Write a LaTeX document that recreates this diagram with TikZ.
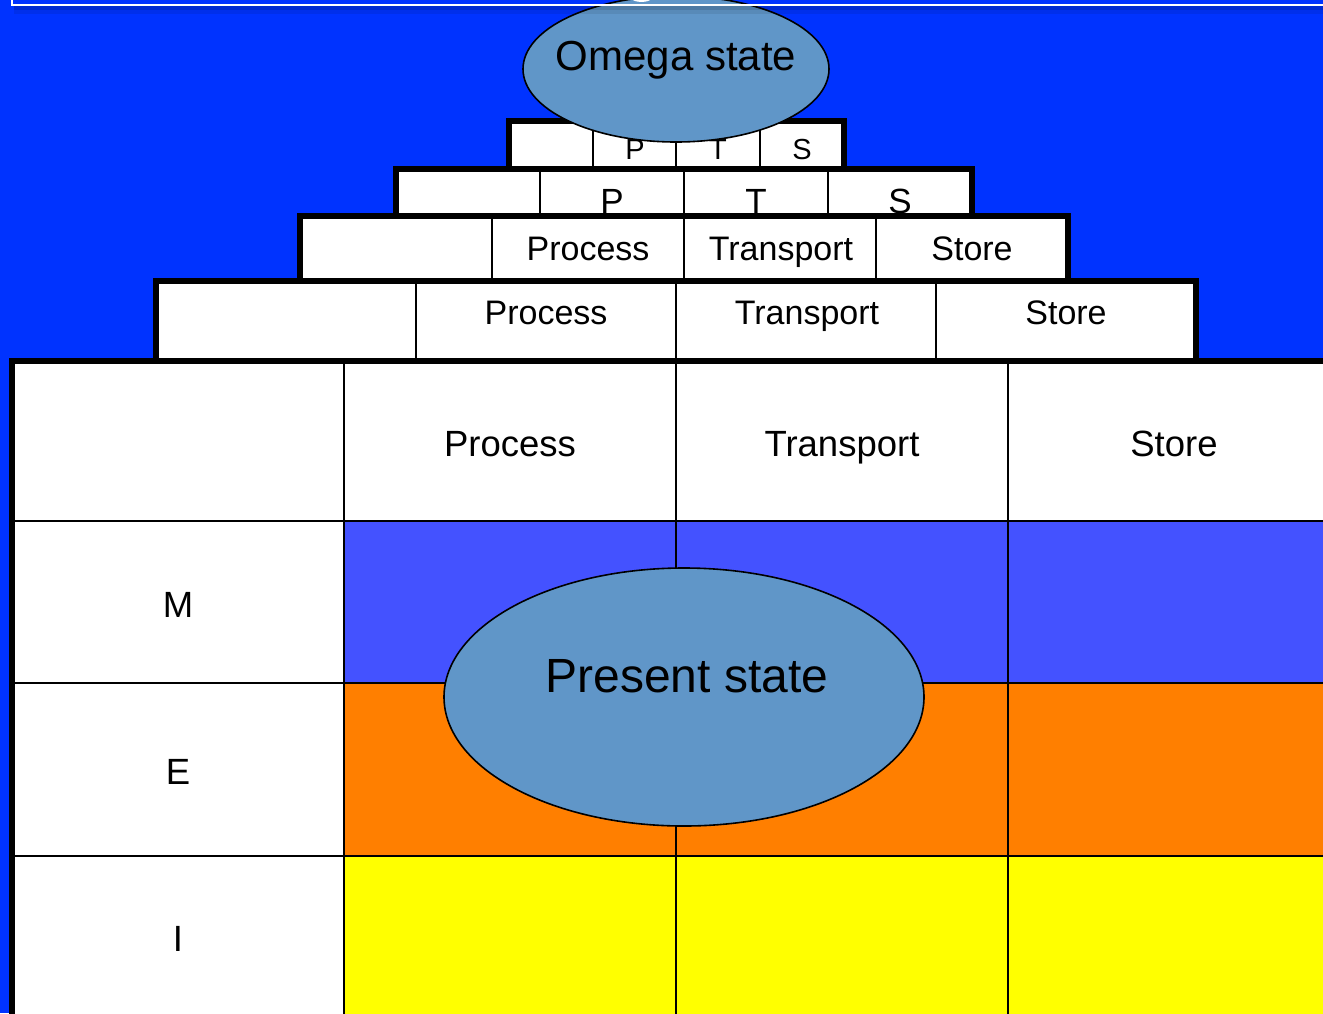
\documentclass[tikz,border=0pt]{standalone}
\usepackage{fontspec}
\setmainfont{Liberation Sans}
\usetikzlibrary{shapes.geometric}
\definecolor{bgblue}{RGB}{0,51,255}
\definecolor{mblue}{RGB}{68,82,255}
\definecolor{eorange}{RGB}{255,127,0}
\definecolor{iyellow}{RGB}{255,255,0}
\definecolor{ellfill}{RGB}{96,150,200}
\begin{document}
\begin{tikzpicture}[x=1pt,y=-1pt,
  outer/.style={line width=5.5pt,line join=miter},
  inner/.style={line width=1.6pt},
  lbl/.style={anchor=base,inner sep=0pt,font=\fontsize{34}{34}\selectfont},
  tinylbl/.style={lbl,font=\fontsize{29}{29}\selectfont},
  midlbl/.style={lbl,font=\fontsize{35}{35}\selectfont},
  biglbl/.style={lbl,font=\fontsize{36.5}{36.5}\selectfont},
  stateell/.style={draw,ellipse,fill=ellfill,line width=1.6pt,inner sep=0pt}]
\useasboundingbox (0,0) rectangle (1323,1013);
\clip (0,0) rectangle (1323,1013);
\fill[bgblue] (0,0) rectangle (1323,1013);

% ---- tier 1
\fill[white] (509,121) rectangle (844,178);
\draw[inner] (593,121) -- (593,178) (676,121) -- (676,178) (760,121) -- (760,178);
\draw[outer] (509,178) -- (509,121) -- (844,121) -- (844,178);
\node[tinylbl] (t1p) at (635,159) {P};
\node[tinylbl] (t1t) at (718,159) {T};
\node[tinylbl] (t1s) at (802,159) {S};

% ---- tier 2
\fill[white] (396,169) rectangle (972,225);
\draw[inner] (540,169) -- (540,225) (684,169) -- (684,225) (828,169) -- (828,225);
\draw[outer] (396,225) -- (396,169) -- (972,169) -- (972,225);
\node[midlbl] (t2p) at (612,213) {P};
\node[midlbl] (t2t) at (756,213) {T};
\node[midlbl] (t2s) at (900,213) {S};

% ---- tier 3
\fill[white] (300,216) rectangle (1068,290);
\draw[inner] (492,216) -- (492,290) (684,216) -- (684,290) (876,216) -- (876,290);
\draw[outer] (300,290) -- (300,216) -- (1068,216) -- (1068,290);
\node[lbl] (t3p) at (588,260) {Process};
\node[lbl] (t3t) at (781,260) {Transport};
\node[lbl] (t3s) at (972,260) {Store};

% ---- tier 4
\fill[white] (156,281) rectangle (1196,370);
\draw[inner] (416,281) -- (416,370) (676,281) -- (676,370) (936,281) -- (936,370);
\draw[outer] (156,370) -- (156,281) -- (1196,281) -- (1196,370);
\node[lbl] (t4p) at (546,324) {Process};
\node[lbl] (t4t) at (807,324) {Transport};
\node[lbl] (t4s) at (1066,324) {Store};

% ---- main table
\fill[white] (12,361) rectangle (1340,1030);
\fill[mblue] (344,521) rectangle (1340,683);
\fill[eorange] (344,683) rectangle (1340,856);
\fill[iyellow] (344,856) rectangle (1340,1030);
\draw[inner] (344,361) -- (344,1030) (676,361) -- (676,1030) (1008,361) -- (1008,1030);
\draw[inner] (12,521) -- (1340,521) (12,683) -- (1340,683) (12,856) -- (1340,856);
\draw[outer] (12,1030) -- (12,361) -- (1340,361);
\node[biglbl] (hp) at (510,456) {Process};
\node[biglbl] (ht) at (842,456) {Transport};
\node[biglbl] (hs) at (1174,456) {Store};
\node[biglbl] (rm) at (178,617) {M};
\node[biglbl] (re) at (178,784) {E};
\node[biglbl] (ri) at (178,951) {I};

% ---- ellipses
\node[stateell,minimum width=480pt,minimum height=258pt] (present) at (684,697) {};
\node[lbl,font=\fontsize{48}{48}\selectfont] (presenttxt) at (687,692) {Present state};
\node[stateell,minimum width=306pt,minimum height=146pt] (omega) at (676,69) {};
\node[lbl,font=\fontsize{42}{42}\selectfont] (omegatxt) at (676,70) {Omega state};

% ---- title box edge and shadow
\fill[black,opacity=0.18] (14,6) rectangle (1323,10);
\fill[black,opacity=0.08] (14,10) rectangle (1323,14);
\draw[white,line width=2pt] (12,-3) -- (12,5) -- (1330,5);
\fill[white] (633,0) .. controls (636,2.5) and (647,2.5) .. (650,0) -- cycle;
\end{tikzpicture}
\end{document}
